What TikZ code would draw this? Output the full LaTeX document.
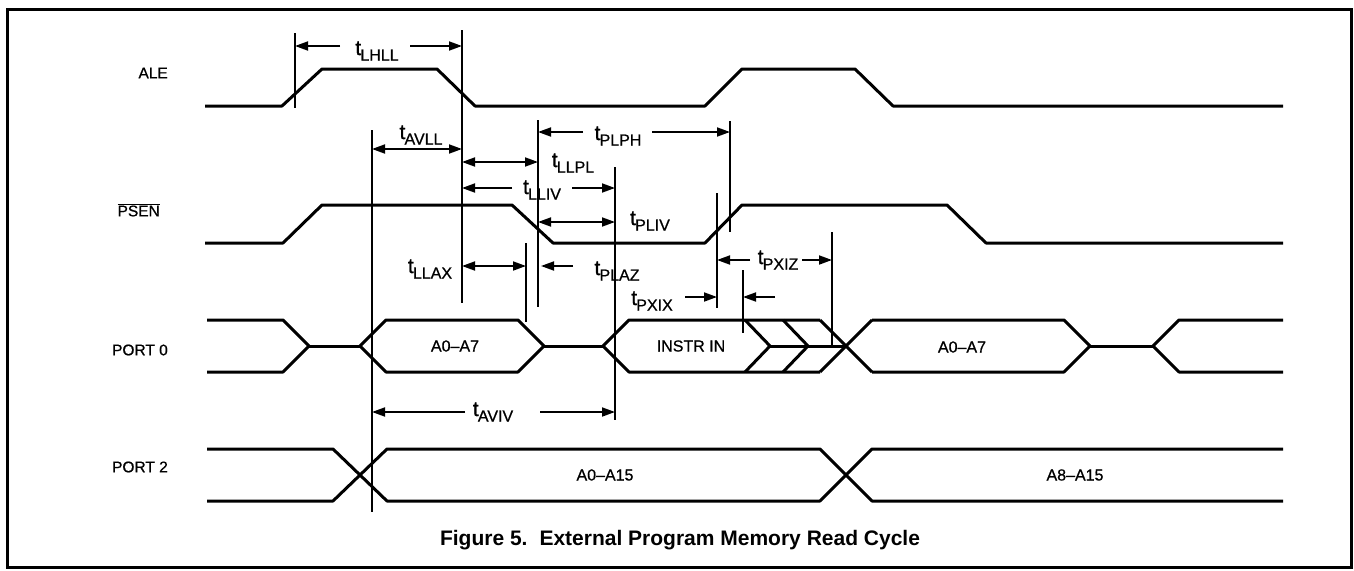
\documentclass[tikz,border=0pt]{standalone}
\usepackage{fontspec}
\setmainfont{Liberation Sans}
\newfontfamily\heavyfont[FakeBold=0.8,Ligatures=TeX]{Liberation Sans}
\usetikzlibrary{arrows.meta}
\newcommand{\tlab}[1]{{\fontsize{21}{21}\selectfont t}\kern-0.8pt\raisebox{-5.5pt}{\fontsize{16}{16}\selectfont #1}}
\begin{document}
\begin{tikzpicture}[x=1pt,y=-1pt,
 sig/.style={line width=3pt, line join=round},
 refl/.style={line width=1.6pt},
 dim/.style={line width=1.8pt, -{Triangle[length=13pt,width=9pt]}},
 ddim/.style={line width=1.8pt, {Triangle[length=13pt,width=9pt]}-{Triangle[length=13pt,width=9pt]}},
 lbl/.style={font=\heavyfont\fontsize{15.5}{16}\selectfont, inner sep=0pt},
 dat/.style={font=\heavyfont\fontsize{16}{16}\selectfont, inner sep=0pt},
 tl/.style={inner sep=0pt, font=\heavyfont}
]
\useasboundingbox (0,0) rectangle (1354,570);
\draw[line width=3pt] (7,9) rectangle (1351,567);

% signal names
\node[lbl, anchor=east] (ale) at (168,73) {ALE};
\node[lbl, anchor=east] (psen) at (160,210) {$\overline{\mbox{PSEN}}$};
\node[lbl, anchor=east] (p0) at (168,350) {PORT 0};
\node[lbl, anchor=east] (p2) at (168,467) {PORT 2};

% ALE
\draw[sig] (205,106) -- (282,106) -- (322,69) -- (437,69) -- (475,106) -- (705,106) -- (742,69) -- (855,69) -- (893,106) -- (1283,106);
% PSEN
\draw[sig] (205,243) -- (283,243) -- (322,205) -- (512,205) -- (553,243) -- (705,243) -- (742,205) -- (947,205) -- (986,243) -- (1283,243);

% PORT 0
\draw[sig] (207,320) -- (283,320) -- (309,346) -- (283,372) -- (207,372);
\draw[sig] (309,346) -- (360,346);
\draw[sig] (386,372) -- (360,346) -- (386,320) -- (518,320) -- (544,346) -- (518,372) -- cycle;
\draw[sig] (544,346) -- (603,346);
\draw[sig] (820,320) -- (629,320) -- (603,346) -- (629,372) -- (820,372);
\draw[sig] (745,320) -- (770,346) -- (745,372);
\draw[sig] (783,320) -- (808,346) -- (783,372);
\draw[sig] (770,346) -- (846,346);
\draw[sig] (820,320) -- (872,372);
\draw[sig] (820,372) -- (872,320);
\draw[sig] (872,320) -- (1064,320) -- (1090,346) -- (1064,372) -- (872,372);
\draw[sig] (1090,346) -- (1153,346);
\draw[sig] (1283,320) -- (1179,320) -- (1153,346) -- (1179,372) -- (1283,372);

% PORT 2
\draw[sig] (207,449) -- (333,449) -- (387,501) -- (820,501) -- (872,449) -- (1283,449);
\draw[sig] (207,501) -- (333,501) -- (387,449) -- (820,449) -- (872,501) -- (1283,501);

% bus labels
\node[dat] (d1) at (455,346) {A0–A7};
\node[dat] (d2) at (691,346) {INSTR IN};
\node[dat] (d3) at (962,347) {A0–A7};
\node[dat] (d4) at (605,475) {A0–A15};
\node[dat] (d5) at (1075,475) {A8–A15};

% reference lines
\draw[refl] (295,33) coordinate (r1t) -- (295,108) coordinate (r1b);
\draw[refl] (462,30) coordinate (r2t) -- (462,303) coordinate (r2b);
\draw[refl] (372,130) coordinate (r3t) -- (372,512) coordinate (r3b);
\draw[refl] (538,120) coordinate (r4t) -- (538,307) coordinate (r4b);
\draw[refl] (615,167) coordinate (r5t) -- (615,420) coordinate (r5b);
\draw[refl] (730,121) coordinate (r6t) -- (730,232) coordinate (r6b);
\draw[refl] (526,243) coordinate (r7t) -- (526,322) coordinate (r7b);
\draw[refl] (717,193) coordinate (r8t) -- (717,308) coordinate (r8b);
\draw[refl] (743,270) coordinate (r9t) -- (743,333) coordinate (r9b);
\draw[refl] (832,232) coordinate (r10t) -- (832,345) coordinate (r10b);

% timing arrows and labels
\draw[dim] (340,46) -- (295,46);
\draw[dim] (410,46) -- (462,46);
\node[tl] (tLHLL) at (377,51) {\tlab{LHLL}};

\draw[ddim] (372,149) -- (462,149);
\node[tl] (tAVLL) at (421,135) {\tlab{AVLL}};

\draw[dim] (583,132) -- (538,132);
\draw[dim] (652,132) -- (730,132);
\node[tl] (tPLPH) at (618,136) {\tlab{PLPH}};

\draw[ddim] (462,162) -- (538,162);
\node[tl] (tLLPL) at (573,163) {\tlab{LLPL}};

\draw[dim] (512,188) -- (462,188);
\draw[dim] (572,188) -- (615,188);
\node[tl] (tLLIV) at (542,190) {\tlab{LLIV}};

\draw[ddim] (538,222) -- (615,222);
\node[tl] (tPLIV) at (650,221) {\tlab{PLIV}};

\draw[ddim] (462,266) -- (526,266);
\node[tl] (tLLAX) at (430,269) {\tlab{LLAX}};

\draw[dim] (573,266) -- (541,266);
\node[tl] (tPLAZ) at (617,271) {\tlab{PLAZ}};

\draw[dim] (685,297) -- (717,297);
\draw[dim] (775,297) -- (743,297);
\node[tl] (tPXIX) at (652,301) {\tlab{PXIX}};

\draw[dim] (750,260) -- (717,260);
\draw[dim] (802,260) -- (832,260);
\node[tl] (tPXIZ) at (778,260) {\tlab{PXIZ}};

\draw[dim] (465,412) -- (372,412);
\draw[dim] (540,412) -- (615,412);
\node[tl] (tAVIV) at (493,412) {\tlab{AVIV}};

% caption
\node[inner sep=0pt, font=\bfseries\fontsize{21}{21}\selectfont] (cap) at (680,540) {Figure 5.\hspace{12pt}External Program Memory Read Cycle};
\end{tikzpicture}
\end{document}
